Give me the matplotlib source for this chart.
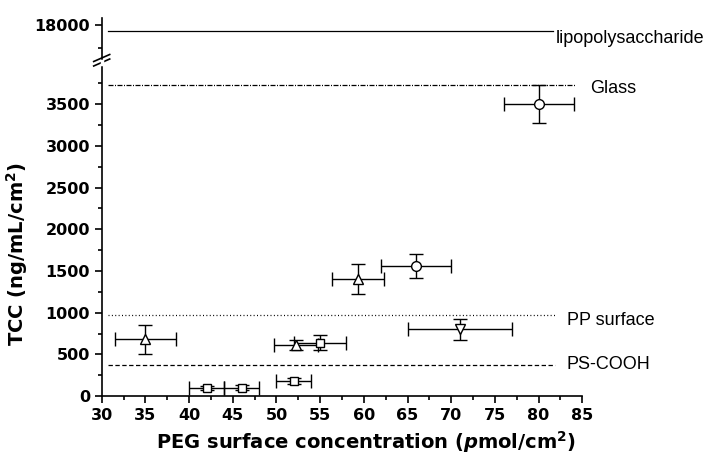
import numpy as np
import matplotlib.pyplot as plt
from matplotlib.lines import Line2D

plt.rcParams['font.family'] = ['Liberation Sans', 'DejaVu Sans']
plt.rcParams['mathtext.fontset'] = 'custom'
plt.rcParams['mathtext.rm'] = 'DejaVu Sans:bold'
plt.rcParams['mathtext.bf'] = 'DejaVu Sans:bold'
plt.rcParams['mathtext.it'] = 'DejaVu Sans:italic:bold'

# data (PEG surface concentration vs TCC)
circle_x = [66, 80]
circle_y = [1560, 3500]
circle_xerr = [4, 4]
circle_yerr = [140, 230]

up_x = [35, 52.2, 59.3]
up_y = [680, 610, 1400]
up_xerr = [3.5, 2.5, 3]
up_yerr = [175, 60, 180]

down_x = [71]
down_y = [800]
down_xerr = [6]
down_yerr = [125]

square_x = [42, 46, 52, 55]
square_y = [100, 100, 180, 640]
square_xerr = [2, 2, 2, 3]
square_yerr = [25, 30, 40, 90]

# reference levels
ref_names = ['Glass', 'PP surface', 'PS-COOH']
ref_values = [3730, 970, 370]
ref_xmax = [84.2, 81.9, 81.9]
ref_styles = [(0, (4, 1.2, 0.8, 1.2)), (0, (0.8, 1.9)), (0, (3.5, 2))]
ref_text_x = [85.9, 83.2, 83.2]
ref_text_y = [3690, 912, 384]
lps_value = 17740

bold_font = ['DejaVu Sans']

fig = plt.figure(figsize=(7.08, 4.61), dpi=100)
ax = fig.add_axes([101.7 / 708, 65 / 461, 480.6 / 708, 330 / 461])
ax_top = fig.add_axes([101.7 / 708, (461 - 62) / 461, 480.6 / 708, 44 / 461])

kw = dict(mfc='white', mec='black', ecolor='black', elinewidth=1,
          capsize=5, capthick=1, linestyle='none', mew=1)
ax.errorbar(circle_x, circle_y, xerr=circle_xerr, yerr=circle_yerr, fmt='o', ms=7, **kw)
ax.errorbar(up_x, up_y, xerr=up_xerr, yerr=up_yerr, fmt='^', ms=7, **kw)
ax.errorbar(down_x, down_y, xerr=down_xerr, yerr=down_yerr, fmt='v', ms=7, **kw)
ax.errorbar(square_x, square_y, xerr=square_xerr, yerr=square_yerr, fmt='s', ms=6, **kw)

for name, val, xm, ls, tx, ty in zip(ref_names, ref_values, ref_xmax, ref_styles,
                                      ref_text_x, ref_text_y):
    ax.plot([30.7, xm], [val, val], color='black', lw=0.9, linestyle=ls)
    ax.text(tx, ty, name, fontsize=13, va='center', ha='left', clip_on=False)

ax.set_xlim(30, 85)
ax.set_ylim(0, 3960)
ax.set_xticks(np.arange(30, 86, 5))
ax.set_xticks(np.arange(32.5, 85, 5), minor=True)
ax.set_yticks(np.arange(0, 3501, 500))
ax.set_yticks(np.arange(250, 3800, 500), minor=True)
for s in ['top', 'right']:
    ax.spines[s].set_visible(False)
for s in ['left', 'bottom']:
    ax.spines[s].set_linewidth(1.2)
ax.tick_params(which='major', length=5, width=1.2, labelsize=11.5)
ax.tick_params(which='minor', length=3, width=1.2)
for lab in ax.get_xticklabels() + ax.get_yticklabels():
    lab.set_fontweight('bold')
    lab.set_family(bold_font)

ax.set_xlabel(r'PEG surface concentration ($\mathit{p}$mol/cm$^2$)',
              fontsize=14, fontweight='bold', family=bold_font)
ax.xaxis.set_label_coords(0.55, -0.10)
ax.set_ylabel(r'TCC (ng/mL/cm$^2$)', fontsize=14, fontweight='bold', family=bold_font)
ax.yaxis.set_label_coords(-0.15, 0.43)

# upper segment
ax_top.plot([30.7, 81.7], [lps_value, lps_value], color='black', lw=0.9)
ax_top.text(82.0, 17435, 'lipopolysaccharide', fontsize=13, va='center',
            ha='left', clip_on=False)
ax_top.set_xlim(30, 85)
ax_top.set_ylim(16400, 18300)
ax_top.set_yticks([18000])
ax_top.set_yticks([17000], minor=True)
ax_top.set_xticks([])
for s in ['top', 'right', 'bottom']:
    ax_top.spines[s].set_visible(False)
ax_top.spines['left'].set_linewidth(1.2)
ax_top.tick_params(which='major', length=5, width=1.2, labelsize=11.5)
ax_top.tick_params(which='minor', length=3, width=1.2)
for lab in ax_top.get_yticklabels():
    lab.set_fontweight('bold')
    lab.set_family(bold_font)

# break marks
x0 = 101.7
for dy in [0, 4.5]:
    y1 = 461 - (66 - dy)
    y2 = 461 - (59 - dy)
    fig.add_artist(Line2D([(x0 - 8) / 708, (x0 + 8) / 708],
                          [y1 / 461, y2 / 461], color='black', lw=1.2))
fig.add_artist(Line2D([x0 / 708, x0 / 708], [(461 - 64) / 461, (461 - 61) / 461],
                      color='white', lw=2.5))

fig.savefig('out.png', dpi=100)
